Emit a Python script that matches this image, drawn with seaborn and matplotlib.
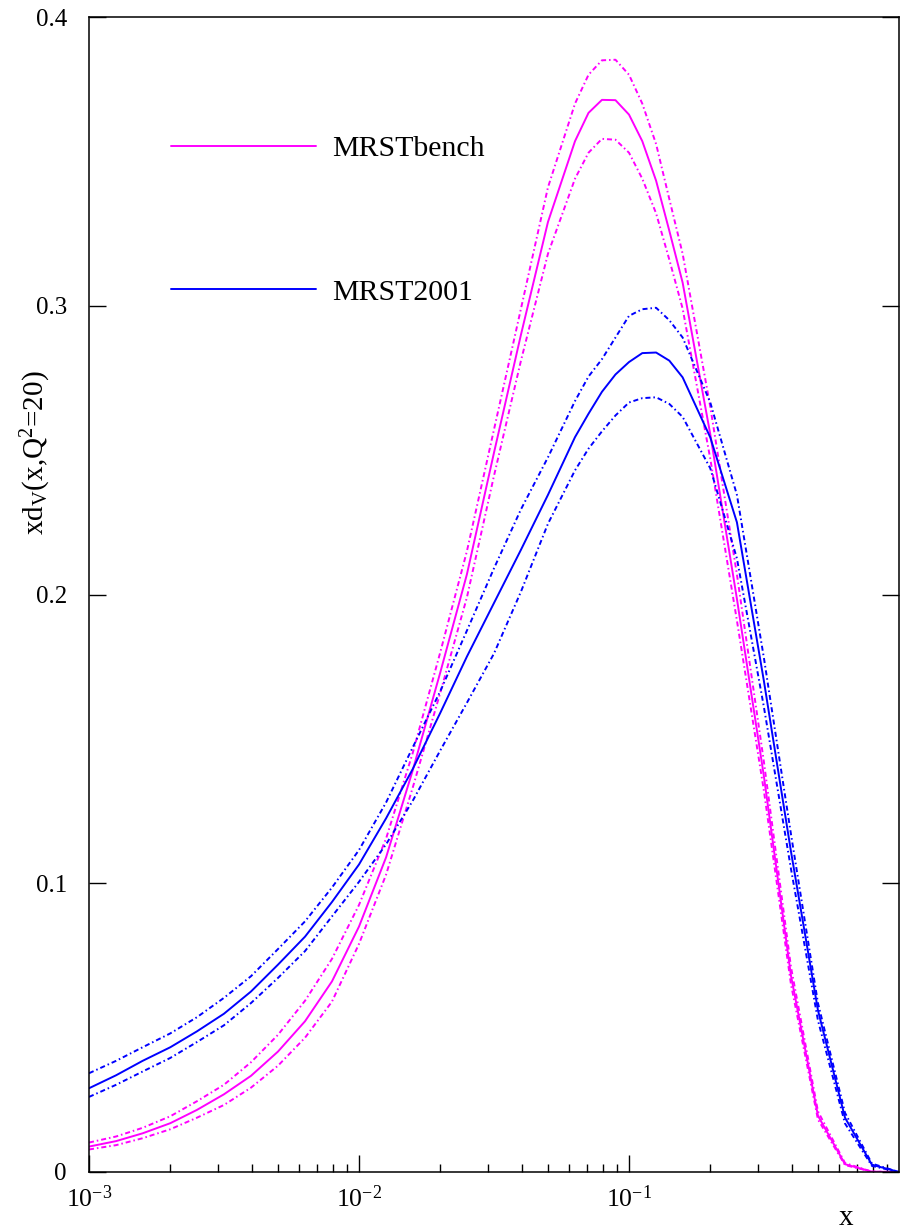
import pandas as pd
import seaborn as sns
import matplotlib.pyplot as plt
from matplotlib.ticker import FixedLocator, NullFormatter

# x grid
x_vals = [0.001, 0.00126, 0.00158, 0.002, 0.00251, 0.00316, 0.00398, 0.00501,
          0.00631, 0.00794, 0.01, 0.0126, 0.0158, 0.02, 0.0251, 0.0316, 0.0398,
          0.0501, 0.0631, 0.0708, 0.0794, 0.0891, 0.1, 0.112, 0.126, 0.141,
          0.158, 0.2, 0.251, 0.316, 0.398, 0.501, 0.631, 0.794, 1.0]

# MRSTbench (magenta): central value and error band
bench_central = [0.0088, 0.0107, 0.0134, 0.0169, 0.0215, 0.0269, 0.0333, 0.0417,
                 0.0522, 0.0660, 0.0850, 0.1090, 0.1390, 0.1730, 0.2070, 0.2490,
                 0.2900, 0.3290, 0.3570, 0.3668, 0.3713, 0.3712, 0.3662, 0.3570,
                 0.3433, 0.3260, 0.3080, 0.2555, 0.1985, 0.1370, 0.0680, 0.0195,
                 0.0027, 0.0001, 0.0]
bench_upper = [0.0102, 0.0123, 0.0153, 0.0193, 0.0245, 0.0302, 0.0380, 0.0475,
               0.0593, 0.0738, 0.0925, 0.1155, 0.1450, 0.1800, 0.2150, 0.2570,
               0.2990, 0.3410, 0.3700, 0.3800, 0.3850, 0.3852, 0.3800, 0.3700,
               0.3560, 0.3370, 0.3180, 0.2650, 0.2070, 0.1420, 0.0710, 0.0210,
               0.0031, 0.0001, 0.0]
bench_lower = [0.0078, 0.0093, 0.0117, 0.0148, 0.0188, 0.0232, 0.0292, 0.0368,
               0.0465, 0.0590, 0.0790, 0.1030, 0.1330, 0.1660, 0.1990, 0.2410,
               0.2810, 0.3180, 0.3440, 0.3530, 0.3578, 0.3575, 0.3530, 0.3440,
               0.3320, 0.3160, 0.2990, 0.2470, 0.1910, 0.1320, 0.0650, 0.0182,
               0.0024, 0.0001, 0.0]

# MRST2001 (blue): central value and error band
mrst_central = [0.0290, 0.0335, 0.0385, 0.0432, 0.0487, 0.0548, 0.0625, 0.0718,
                0.0815, 0.0935, 0.1065, 0.1225, 0.1395, 0.1590, 0.1785, 0.1970,
                0.2155, 0.2345, 0.2545, 0.2626, 0.2702, 0.2762, 0.2805, 0.2836,
                0.2838, 0.2810, 0.2752, 0.2544, 0.2250, 0.1700, 0.1110, 0.0560,
                0.0188, 0.0025, 0.0]
mrst_upper = [0.0342, 0.0385, 0.0432, 0.0480, 0.0536, 0.0603, 0.0678, 0.0772,
              0.0868, 0.0985, 0.1115, 0.1280, 0.1470, 0.1665, 0.1875, 0.2090,
              0.2295, 0.2475, 0.2670, 0.2755, 0.2815, 0.2890, 0.2965, 0.2988,
              0.2993, 0.2950, 0.2890, 0.2665, 0.2345, 0.1780, 0.1170, 0.0585,
              0.0205, 0.0029, 0.0]
mrst_lower = [0.0260, 0.0302, 0.0348, 0.0395, 0.0450, 0.0508, 0.0585, 0.0672,
              0.0765, 0.0885, 0.1005, 0.1135, 0.1285, 0.1460, 0.1625, 0.1795,
              0.2010, 0.2245, 0.2430, 0.2505, 0.2565, 0.2620, 0.2665, 0.2680,
              0.2683, 0.2660, 0.2615, 0.2437, 0.2125, 0.1610, 0.1050, 0.0525,
              0.0168, 0.0021, 0.0]

legend_labels = ["MRSTbench", "MRST2001"]
x_ticks = [0.001, 0.01, 0.1]
x_tick_labels = [r"$10^{-3}$", r"$10^{-2}$", r"$10^{-1}$"]
y_ticks = [0, 0.1, 0.2, 0.3, 0.4]
y_tick_labels = ["0", "0.1", "0.2", "0.3", "0.4"]

sns.set_style("ticks")
plt.rcParams["font.family"] = ["Liberation Serif", "DejaVu Serif"]
plt.rcParams["mathtext.fontset"] = "custom"
plt.rcParams["mathtext.rm"] = "Liberation Serif"
plt.rcParams["mathtext.it"] = "Liberation Serif:italic"
plt.rcParams["text.color"] = "black"
plt.rcParams["axes.labelcolor"] = "black"
plt.rcParams["xtick.color"] = "black"
plt.rcParams["ytick.color"] = "black"

fig = plt.figure(figsize=(9.05, 12.31), dpi=100)
ax = fig.add_axes([89 / 905, 1 - 1172 / 1231, 810 / 905, 1155 / 1231])

dashdot = (0, (2.6, 1.5, 0.8, 1.5))
magenta = "#ff00ff"
blue = "#0000ff"

series = [
    (bench_central, magenta, "-"),
    (bench_upper, magenta, dashdot),
    (bench_lower, magenta, dashdot),
    (mrst_central, blue, "-"),
    (mrst_upper, blue, dashdot),
    (mrst_lower, blue, dashdot),
]
for vals, color, ls in series:
    df = pd.DataFrame({"x": x_vals, "y": vals})
    sns.lineplot(data=df, x="x", y="y", color=color, linestyle=ls,
                 linewidth=1.4, ax=ax, legend=False)

ax.set_xscale("log")
ax.set_xlim(1e-3, 1)
ax.set_ylim(0, 0.4)

ax.xaxis.set_major_locator(FixedLocator(x_ticks))
ax.set_xticklabels(x_tick_labels)
ax.xaxis.set_minor_locator(FixedLocator(
    [m * d for d in (1e-3, 1e-2, 1e-1) for m in range(2, 10)]))
ax.xaxis.set_minor_formatter(NullFormatter())
ax.set_yticks(y_ticks)
ax.set_yticklabels(y_tick_labels)

ax.tick_params(axis="x", which="major", direction="in", length=12, width=1,
               labelsize=18.5, pad=10, top=False)
ax.tick_params(axis="x", which="minor", direction="in", length=6, width=1,
               top=False)
ax.tick_params(axis="y", which="major", direction="in", length=12, width=1,
               labelsize=18, pad=16, left=True, right=True)
ax.tick_params(axis="y", which="minor", left=False, right=False)

for sp in ax.spines.values():
    sp.set_linewidth(1.1)
    sp.set_color("black")

ax.set_xlabel("x", fontsize=21)
ax.xaxis.set_label_coords(0.9346, -0.029)
ax.set_ylabel(r"xd$_{\rm V}$(x,Q$^2$=20)", fontsize=21)
ax.yaxis.set_label_coords(-0.044, 0.623)

handles = [ax.lines[0], ax.lines[3]]
ax.legend(handles=handles, labels=legend_labels, loc="upper left",
          bbox_to_anchor=(0.1012, 0.8975), frameon=False, fontsize=21.5,
          handlelength=4.85, handletextpad=0.55, labelspacing=3.9,
          borderpad=0, borderaxespad=0)

fig.savefig("out.png", dpi=100)
